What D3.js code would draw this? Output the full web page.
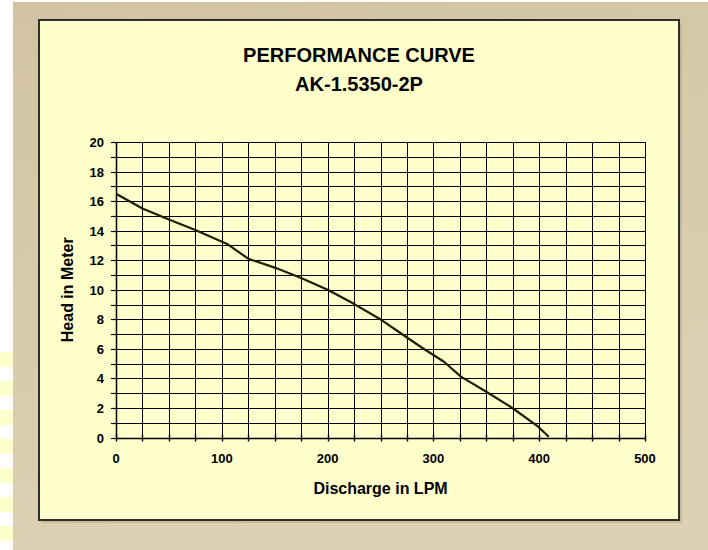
<!DOCTYPE html>
<html>
<head>
<meta charset="utf-8">
<script src="https://cdn.jsdelivr.net/npm/d3@7"></script>
<style>
  html, body { margin: 0; padding: 0; background: #ffffff; }
  svg { display: block; }
  text { font-family: "Liberation Sans", Arial, sans-serif; font-weight: bold; fill: #000; }
</style>
</head>
<body>
<svg id="chart" width="708" height="550"></svg>
<script>
// ---- data ----
const titleLines = ["PERFORMANCE CURVE", "AK-1.5350-2P"];
const xLabel = "Discharge in LPM";
const yLabel = "Head in Meter";
const discharge = [0, 25, 50, 75, 105, 125, 150, 175, 200, 224, 251, 274, 290, 310, 326, 350, 375, 399, 409];
const head =      [16.5, 15.5, 14.75, 14.05, 13.1, 12.1, 11.5, 10.8, 10.0, 9.08, 7.95, 6.82, 6.04, 5.13, 4.12, 3.1, 1.98, 0.73, 0.05];
const xTicks = [0, 100, 200, 300, 400, 500];
const yTicks = [0, 2, 4, 6, 8, 10, 12, 14, 16, 18, 20];

// ---- layout ----
const W = 708, H = 550;
const svg = d3.select("#chart");
const defs = svg.append("defs");
const grad = defs.append("linearGradient").attr("id", "bg").attr("x1", 0).attr("y1", 0).attr("x2", 0.3).attr("y2", 1);
grad.append("stop").attr("offset", "0%").attr("stop-color", "#d2c4a2");
grad.append("stop").attr("offset", "100%").attr("stop-color", "#dcd1b3");

// left decorative strip
svg.append("rect").attr("x", 0).attr("y", 0).attr("width", W).attr("height", H).attr("fill", "#ffffff");
const stripes = d3.range(0, 7);
svg.selectAll("rect.stripe").data(stripes).enter().append("rect")
  .attr("class", "stripe")
  .attr("x", 0).attr("width", 13)
  .attr("y", d => 352 + d * 29).attr("height", 15)
  .attr("fill", "#ffffcc");

svg.append("rect").attr("x", 13).attr("y", 2).attr("width", W - 13).attr("height", H - 2).attr("fill", "url(#bg)");

// panel shadow + panel
const panel = { x: 39, y: 20, w: 640, h: 500 };
svg.append("rect").attr("x", panel.x + 3).attr("y", panel.y + 3).attr("width", panel.w).attr("height", panel.h)
  .attr("fill", "#b8ab8c").attr("opacity", 0.6);
svg.append("rect").attr("x", panel.x).attr("y", panel.y).attr("width", panel.w).attr("height", panel.h)
  .attr("fill", "#ffffcc").attr("stroke", "#2e2e2a").attr("stroke-width", 2);

// titles
svg.selectAll("text.title").data(titleLines).enter().append("text")
  .attr("class", "title")
  .attr("x", panel.x + panel.w / 2)
  .attr("y", (d, i) => 62 + i * 29)
  .attr("text-anchor", "middle")
  .style("font-size", "20px")
  .text(d => d);

// scales
const x = d3.scaleLinear().domain([0, 500]).range([116, 645]);
const y = d3.scaleLinear().domain([0, 20]).range([437.5, 142]);

const g = svg.append("g");

// grid
const xGrid = d3.range(0, 501, 25);
const yGrid = d3.range(0, 21, 1);
g.selectAll("line.vg").data(xGrid).enter().append("line")
  .attr("x1", d => Math.round(x(d)) + 0.5).attr("x2", d => Math.round(x(d)) + 0.5)
  .attr("y1", y(20)).attr("y2", y(0))
  .attr("stroke", "#000").attr("stroke-width", 1);
g.selectAll("line.hg").data(yGrid).enter().append("line")
  .attr("y1", d => Math.round(y(d)) + 0.5).attr("y2", d => Math.round(y(d)) + 0.5)
  .attr("x1", x(0)).attr("x2", x(500))
  .attr("stroke", "#000").attr("stroke-width", 1);

// x axis ticks (every 25, crossing axis)
g.selectAll("line.xt").data(xGrid).enter().append("line")
  .attr("x1", d => Math.round(x(d)) + 0.5).attr("x2", d => Math.round(x(d)) + 0.5)
  .attr("y1", y(0) - 3).attr("y2", y(0) + 4)
  .attr("stroke", "#000").attr("stroke-width", 1.4);
// y axis ticks (every 1, left of axis)
g.selectAll("line.yt").data(yGrid).enter().append("line")
  .attr("y1", d => Math.round(y(d)) + 0.5).attr("y2", d => Math.round(y(d)) + 0.5)
  .attr("x1", x(0) - 5).attr("x2", x(0) + 2)
  .attr("stroke", "#000").attr("stroke-width", 1.2);

// axis lines
g.append("line").attr("x1", x(0)).attr("x2", x(500)).attr("y1", Math.round(y(0)) + 0.5).attr("y2", Math.round(y(0)) + 0.5)
  .attr("stroke", "#000").attr("stroke-width", 1.5);
g.append("line").attr("x1", Math.round(x(0)) + 0.5).attr("x2", Math.round(x(0)) + 0.5).attr("y1", y(0)).attr("y2", y(20))
  .attr("stroke", "#000").attr("stroke-width", 1.5);

// tick labels
g.selectAll("text.xl").data(xTicks).enter().append("text")
  .attr("x", d => x(d)).attr("y", 463)
  .attr("text-anchor", "middle").style("font-size", "13px")
  .text(d => d);
g.selectAll("text.yl").data(yTicks).enter().append("text")
  .attr("x", 104).attr("y", d => y(d) + 5)
  .attr("text-anchor", "end").style("font-size", "13px")
  .text(d => d);

// axis titles
svg.append("text").attr("x", (x(0) + x(500)) / 2).attr("y", 494)
  .attr("text-anchor", "middle").style("font-size", "16px").text(xLabel);
svg.append("text").attr("transform", `translate(73,${(y(0) + y(20)) / 2}) rotate(-90)`)
  .attr("text-anchor", "middle").style("font-size", "16px").text(yLabel);

// curve
const pts = discharge.map((d, i) => [d, head[i]]);
const line = d3.line().x(d => x(d[0])).y(d => y(d[1]));
g.append("path").datum(pts).attr("d", line)
  .attr("fill", "none").attr("stroke", "#1e1e00").attr("stroke-width", 2.2)
  .attr("stroke-linejoin", "round");
</script>
</body>
</html>
